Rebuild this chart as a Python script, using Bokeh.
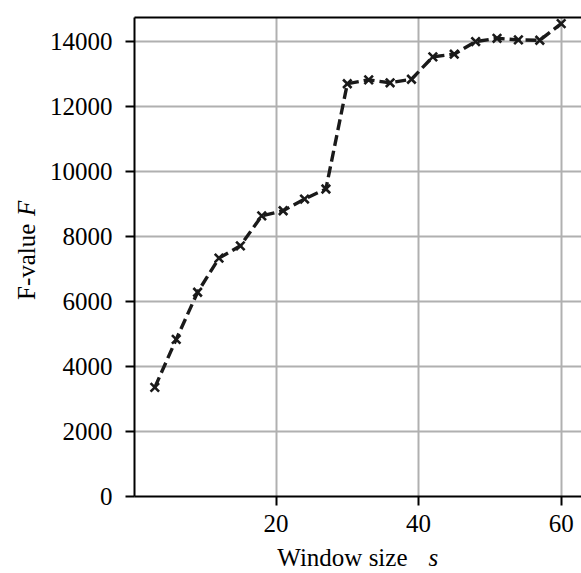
import math
from bokeh.plotting import figure
from bokeh.models import Range1d, FixedTicker, LinearAxis, Label
from bokeh.embed import file_html
from bokeh.resources import INLINE

# Data
window_size = [3, 6, 9, 12, 15, 18, 21, 24, 27, 30, 33, 36, 39, 42, 45, 48, 51, 54, 57, 60]
f_value = [3360, 4840, 6290, 7340, 7720, 8640, 8800, 9160, 9470, 12710,
           12830, 12740, 12850, 13540, 13620, 14010, 14110, 14060, 14050, 14560]
x_ticks = [0, 20, 40, 60]
y_ticks = [0, 2000, 4000, 6000, 8000, 10000, 12000, 14000]
x_label = ["Window size", "s"]
y_label = ["F-value", "F"]

FONT = "Liberation Serif"
INK = "#1a1a1a"

W, H = 581, 573
FRAME_L, FRAME_B, FRAME_T_REF, FRAME_T = 134, 496, 5, 17

# matplotlib-like limits: 5% margin on x, y starting at 0
xspan = max(window_size) - min(window_size)
xmin = min(window_size) - 0.05 * xspan
xmax = max(window_size) + 0.05 * xspan
yspan = max(f_value) - min(f_value)
ymax_ref = max(f_value) + 0.05 * yspan
# keep the reference's value-to-pixel scale although the frame top sits lower
ymax = ymax_ref * (FRAME_B - FRAME_T) / (FRAME_B - FRAME_T_REF)

p = figure(width=W, height=H, output_backend="svg", toolbar_location=None,
           x_range=Range1d(xmin, xmax), y_range=Range1d(0, ymax),
           min_border_left=FRAME_L, min_border_right=0, min_border_top=FRAME_T,
           min_border_bottom=H - FRAME_B)
p.background_fill_color = "white"
p.border_fill_color = "white"
p.outline_line_color = None

p.xaxis.ticker = FixedTicker(ticks=x_ticks)
p.yaxis.ticker = FixedTicker(ticks=y_ticks)

for ax in (p.xaxis[0], p.yaxis[0]):
    ax.axis_line_color = "black"
    ax.axis_line_width = 2
    ax.major_tick_line_color = "black"
    ax.major_tick_line_width = 2
    ax.major_tick_out = 9
    ax.major_tick_in = 0
    ax.minor_tick_line_color = None
    ax.minor_tick_out = 0
    ax.major_label_text_font = FONT
    ax.major_label_text_font_size = "25px"
    ax.major_label_text_color = "black"
    ax.axis_label = None

p.xaxis.major_label_standoff = 9
p.yaxis.major_label_standoff = 13

# top spine
top = LinearAxis(ticker=FixedTicker(ticks=[]), axis_line_color="black", axis_line_width=2,
                 major_tick_out=0, major_tick_in=0, minor_tick_out=0, minor_tick_in=0,
                 major_label_standoff=0, axis_label=None)
p.add_layout(top, "above")

for g in (p.xgrid[0], p.ygrid[0]):
    g.grid_line_color = "#b0b0b0"
    g.grid_line_width = 2

p.line(window_size, f_value, line_color=INK, line_width=3.4, line_dash="11 5")
p.scatter(window_size, f_value, marker="x", size=12, line_color=INK, line_width=2.6)

common = dict(x_units="screen", y_units="screen", text_font=FONT, text_font_size="25px",
              text_color="black", text_baseline="alphabetic")

# y label, upright part (left panel)
p.add_layout(Label(x=6.5, y=196.5, text=y_label[0], angle=math.pi / 2, text_align="left",
                   **common), "left")
# x label, italic part (left panel, shifted below the frame)
p.add_layout(Label(x=419, y=-61, text=x_label[1], text_font_style="italic",
                   text_align="left", **common), "left")
# x label, upright part (below panel)
p.add_layout(Label(x=273, y=4, text=x_label[0], text_align="right", **common), "below")
# y label, italic part (above panel, shifted down)
p.add_layout(Label(x=-108.5, y=-198.5, text=y_label[1], angle=math.pi / 2,
                   text_font_style="italic", text_align="left", **common), "above")

open("out.html", "w").write(file_html(p, INLINE))
